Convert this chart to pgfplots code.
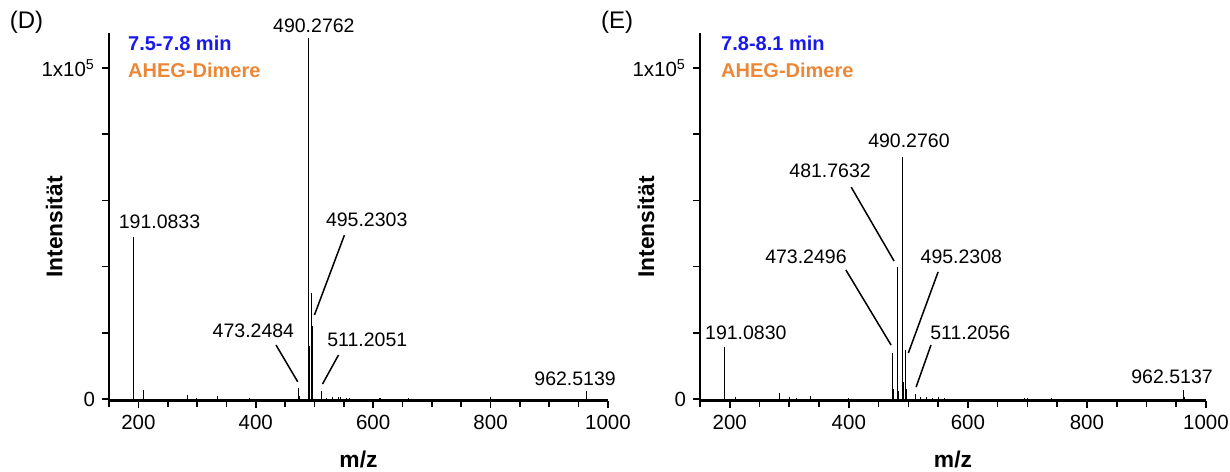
\documentclass[border=0pt]{standalone}
\usepackage{fontspec}
\setmainfont{Liberation Sans}
\usepackage{pgfplots}
\pgfplotsset{compat=1.18}
\definecolor{tblue}{RGB}{25,25,235}
\definecolor{torange}{RGB}{235,135,55}

\pgfplotstableread{
x y
150 0
191.08 49000
191.6 7800
209.1 2700
283.1 1300
299 400
335.2 800
390 300
473.25 3200
474.25 800
490.28 109000
490.78 16000
491.28 6000
495.23 32000
495.73 22000
496.23 6000
497.2 3000
511.21 2500
512.2 800
520 400
530 500
540 600
545 500
555 300
560 400
610 300
612 300
660 200
800 600
962.51 2400
963.5 500
1000 0
}\specD

\pgfplotstableread{
x y
150 0
191.08 15800
209 500
283.1 1800
300 600
312 400
335.2 1000
400 300
473.25 14000
474.25 3000
481.76 40000
482.26 6500
482.76 2500
490.28 73000
490.78 18700
491.28 5000
495.23 14800
495.73 11000
496.23 3000
511.21 1500
520 600
530 500
540 400
550 500
560 400
695 400
700 300
740 300
962.51 2700
963.5 500
1000 0
}\specE

\tikzset{
 ann/.style={font=\fontsize{9.75bp}{11bp}\selectfont, inner sep=0pt},
 leg/.style={font=\bfseries\fontsize{10bp}{12bp}\selectfont, inner sep=0pt, anchor=west},
}

\begin{document}
\begin{tikzpicture}
\useasboundingbox (0,0) rectangle (615bp,236bp);
\pgfplotsset{
 ms/.style={
  scale only axis, height=184bp,
  xmin=150, xmax=1000, ymin=-604, ymax=110574,
  axis x line*=bottom, axis y line*=left,
  axis line style={line width=1bp,-},
  tick align=outside,
  major tick length=3.5bp, minor tick length=3bp,
  tick style={black, line width=0.8bp},
  xtick={200,400,600,800,1000},
  xticklabels={200,400,600,800,1000},
  minor xtick={150,250,300,350,450,500,550,650,700,750,850,900,950},
  ytick={0,20000,40000,60000,80000,100000},
  yticklabels={0,,,,,1x10\textsuperscript{5}},
  scaled y ticks=false,
  tick label style={font=\fontsize{10.25bp}{12bp}\selectfont},
  /pgf/number format/assume math mode=true,
  xlabel={m/z}, ylabel={Intensität},
  label style={font=\bfseries\fontsize{11.4bp}{13bp}\selectfont},
  xlabel style={at={(axis description cs:0.5,-0.16)}, anchor=center},
  clip=false,
 },
}

\begin{axis}[ms, at={(54.5bp,35.5bp)}, width=249.5bp,
  ylabel style={at={(axis description cs:-0.110,0.473)}, anchor=center}]
\addplot[black, line width=0.35bp] coordinates {(150,0) (1000,0)};
\addplot[ycomb, no markers, black, line width=0.4bp] table[x=x,y=y] {\specD};
\node[ann] at (axis cs:499,112700) {490.2762};
\node[ann] at (axis cs:236,53500) {191.0833};
\node[ann] at (axis cs:589,54000) {495.2303};
\draw[line width=0.75bp] (axis cs:551,49500) -- (axis cs:500,25400);
\node[ann] at (axis cs:396,20600) {473.2484};
\draw[line width=0.75bp] (axis cs:434.5,16300) -- (axis cs:471.5,5200);
\node[ann] at (axis cs:590,17800) {511.2051};
\draw[line width=0.75bp] (axis cs:541,13300) -- (axis cs:513.6,4500);
\node[ann] at (axis cs:944,6200) {962.5139};
\node[leg, text=tblue] at (axis cs:182,107500) {7.5-7.8 min};
\node[leg, text=torange] at (axis cs:182,99400) {AHEG-Dimere};
\end{axis}

\begin{axis}[ms, at={(350bp,35.5bp)}, width=253bp,
  ylabel style={at={(axis description cs:-0.107,0.473)}, anchor=center}]
\addplot[black, line width=0.35bp] coordinates {(150,0) (1000,0)};
\addplot[ycomb, no markers, black, line width=0.4bp] table[x=x,y=y] {\specE};
\node[ann] at (axis cs:501,78000) {490.2760};
\node[ann] at (axis cs:368.5,69000) {481.7632};
\draw[line width=0.75bp] (axis cs:404,64000) -- (axis cs:476,41700);
\node[ann] at (axis cs:328,43000) {473.2496};
\draw[line width=0.75bp] (axis cs:395,39000) -- (axis cs:471,16300);
\node[ann] at (axis cs:589,43000) {495.2308};
\draw[line width=0.75bp] (axis cs:550,38400) -- (axis cs:500,13900);
\node[ann] at (axis cs:604,20000) {511.2056};
\draw[line width=0.75bp] (axis cs:538,16300) -- (axis cs:513,3600);
\node[ann] at (axis cs:227,20000) {191.0830};
\node[ann] at (axis cs:943,6600) {962.5137};
\node[leg, text=tblue] at (axis cs:185,107500) {7.8-8.1 min};
\node[leg, text=torange] at (axis cs:185,99400) {AHEG-Dimere};
\end{axis}

\node[font=\fontsize{12bp}{14bp}\selectfont, inner sep=0pt] at (13.25bp,225bp) {(D)};
\node[font=\fontsize{12bp}{14bp}\selectfont, inner sep=0pt] at (308.5bp,225bp) {(E)};
\end{tikzpicture}
\end{document}
